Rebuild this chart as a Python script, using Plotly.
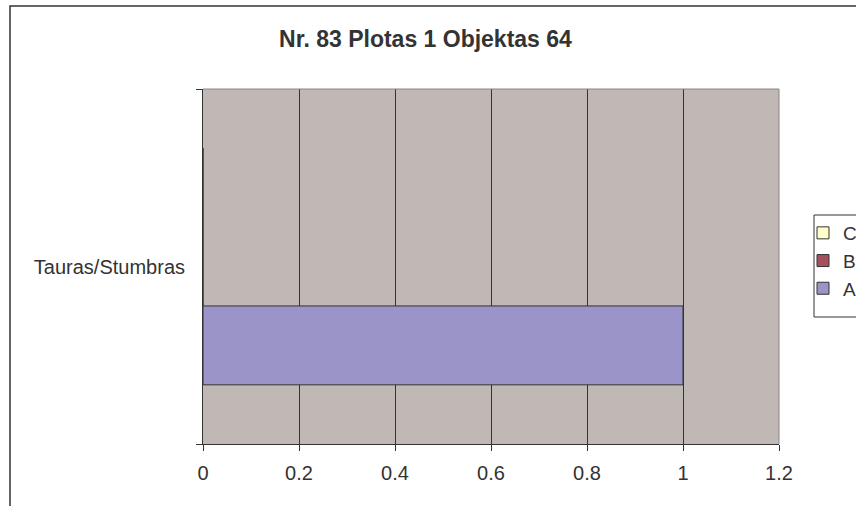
import plotly.graph_objects as go

# Chart data
categories = ["Tauras/Stumbras"]
series_names = ["A", "B", "C"]
series_values = {
    "A": [1],
    "B": [0],
    "C": [0],
}
series_colors = {
    "A": "#9A94C8",
    "B": "#A5505E",
    "C": "#FFFFCC",
}
x_ticks = [0, 0.2, 0.4, 0.6, 0.8, 1, 1.2]
x_tick_labels = ["0", "0.2", "0.4", "0.6", "0.8", "1", "1.2"]
title_text = "Nr. 83 Plotas 1 Objektas 64"

W, H = 856, 506
L, R, T, B = 203, 77, 89, 62
pw, ph = W - L - R, H - T - B


def px_x(x):
    return (x - L) / pw


def px_y(y):
    return (H - B - y) / ph


fig = go.Figure()
for name in series_names:
    fig.add_trace(go.Bar(
        y=categories,
        x=series_values[name],
        name=name,
        orientation="h",
        legendgroup=name,
        marker=dict(color=series_colors[name], line=dict(color="#333333", width=1)),
    ))

shapes = [
    # outer chart frame
    dict(type="rect", xref="paper", yref="paper",
         x0=px_x(10), x1=px_x(900), y0=px_y(560), y1=px_y(6),
         line=dict(color="#333333", width=1.5), fillcolor="rgba(0,0,0,0)", layer="below"),
    # plot-area border (top and right)
    dict(type="line", xref="paper", yref="paper", x0=0, x1=1, y0=1, y1=1,
         line=dict(color="#8C8484", width=1), layer="above"),
    dict(type="line", xref="paper", yref="paper", x0=1, x1=1, y0=0, y1=1,
         line=dict(color="#8C8484", width=1), layer="above"),
    # legend frame
    dict(type="rect", xref="paper", yref="paper",
         x0=px_x(814), x1=px_x(900), y0=px_y(317), y1=px_y(215),
         line=dict(color="#333333", width=1), fillcolor="rgba(0,0,0,0)", layer="below"),
]

fig.update_layout(
    width=W, height=H,
    margin=dict(l=L, r=R, t=T, b=B, autoexpand=False),
    paper_bgcolor="white",
    plot_bgcolor="#C0B8B5",
    font=dict(family="Liberation Sans, Arial, sans-serif", size=20, color="#333333"),
    title=dict(text="<b>" + title_text + "</b>", xref="container", x=425.5 / W,
               xanchor="center", yref="container", y=1 - 39 / H, yanchor="middle",
               font=dict(size=23, color="#333333")),
    barmode="group",
    bargap=1 / 3,
    bargroupgap=0,
    showlegend=True,
    legend=dict(
        x=px_x(803), xanchor="left", y=px_y(214), yanchor="top",
        traceorder="reversed", tracegroupgap=6,
        bgcolor="rgba(0,0,0,0)", borderwidth=0,
        font=dict(size=19, color="#333333"),
    ),
    shapes=shapes,
)

fig.update_xaxes(
    range=[0, 1.2], tickvals=x_ticks, ticktext=x_tick_labels,
    showgrid=True, gridcolor="#333333", gridwidth=1,
    zeroline=False, showline=True, linecolor="#333333", linewidth=1,
    ticks="outside", ticklen=6, tickcolor="#333333",
    ticklabelstandoff=5,
)
fig.update_yaxes(
    type="category", range=[-0.5, 0.5],
    showgrid=False, zeroline=False, showline=True, linecolor="#333333", linewidth=1,
    ticks="outside", ticklen=6, tickcolor="#333333", tickson="boundaries",
    ticklabelstandoff=13,
)

fig.write_html("out.html")
